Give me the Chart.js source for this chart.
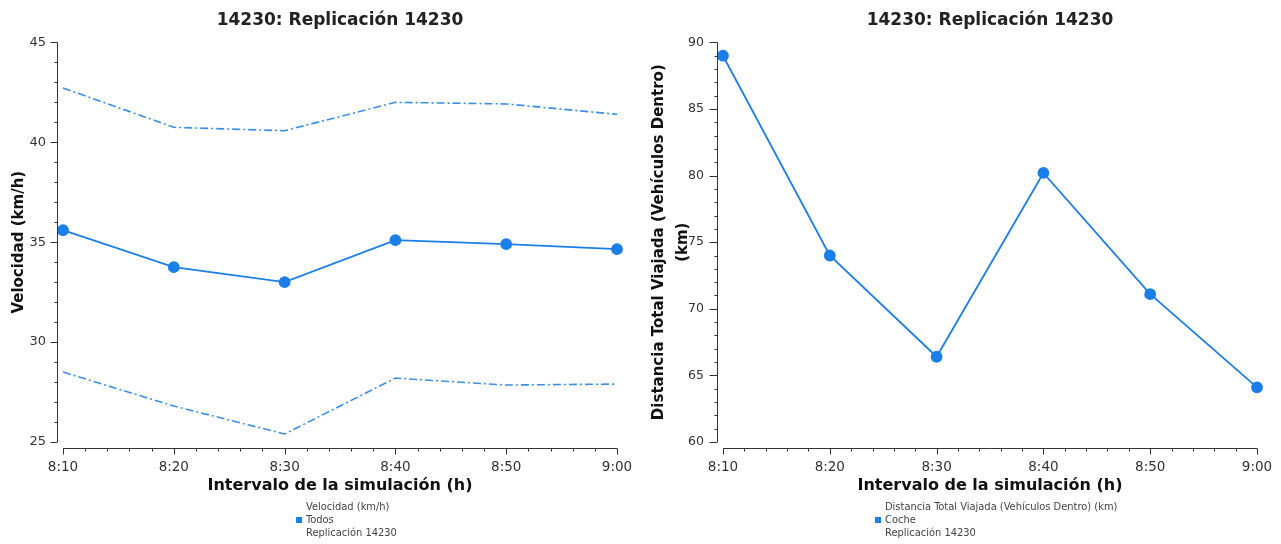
<!DOCTYPE html>
<html>
<head>
<meta charset="utf-8">
<script src="https://cdn.jsdelivr.net/npm/chart.js@4"></script>
<style>
  html, body { margin: 0; padding: 0; background: #fff; }
  #wrap { position: relative; width: 1281px; height: 544px; overflow: hidden; }
  .cv { position: absolute; top: 0; }
  .leg { position: absolute; font-family: "DejaVu Sans Condensed", "DejaVu Sans", sans-serif; font-size: 11px; color: #444; line-height: 13px; white-space: nowrap; }
  .sq { position: absolute; width: 6px; height: 6px; background: #1a7fe8; }
</style>
</head>
<body>
<div id="wrap">
  <div class="cv" style="left:0;width:640px;height:544px;"><canvas id="c1" width="640" height="544"></canvas></div>
  <div class="cv" style="left:640px;width:641px;height:544px;"><canvas id="c2" width="641" height="544"></canvas></div>
  <div class="leg" style="left:306px;top:500px;">Velocidad (km/h)<br>Todos<br>Replicación 14230</div>
  <div class="sq" style="left:296px;top:517px;"></div>
  <div class="leg" style="left:885px;top:500px;">Distancia Total Viajada (Vehículos Dentro) (km)<br>Coche<br>Replicación 14230</div>
  <div class="sq" style="left:875px;top:517px;"></div>
</div>
<script>
const categories = ['8:10', '8:20', '8:30', '8:40', '8:50', '9:00'];
const velocidadMedia = [35.6, 33.75, 33.0, 35.1, 34.9, 34.65];
const velocidadSuperior = [42.72, 40.75, 40.58, 42.0, 41.92, 41.4];
const velocidadInferior = [28.5, 26.8, 25.4, 28.2, 27.85, 27.9];
const distanciaCoche = [89.0, 74.0, 66.4, 80.2, 71.1, 64.1];
const titleText = '14230: Replicación 14230';
const xTitle = 'Intervalo de la simulación (h)';

const BLUE = '#1a7fe8';
const AXIS = '#333333';

const axesPlugin = {
  id: 'offsetAxes',
  afterDraw(chart, args, opts) {
    const ctx = chart.ctx;
    const xs = chart.scales.x, ys = chart.scales.y;
    const ca = chart.chartArea;
    ctx.save();
    ctx.strokeStyle = AXIS;
    ctx.lineWidth = 1;
    // y axis
    const ax = Math.round(ca.left - 6) + 0.5;
    ctx.beginPath();
    ctx.moveTo(ax, ys.getPixelForValue(ys.max));
    ctx.lineTo(ax, ys.getPixelForValue(ys.min));
    for (let v = ys.min; v <= ys.max + 1e-9; v += opts.yMinor) {
      const py = Math.round(ys.getPixelForValue(v)) + 0.5;
      const major = Math.abs(v / opts.yMajor - Math.round(v / opts.yMajor)) < 1e-6;
      ctx.moveTo(ax, py);
      ctx.lineTo(ax - (major ? opts.majorLen : 3), py);
    }
    ctx.stroke();
    // x axis
    const ay = Math.round(ca.bottom + 6) + 0.5;
    const n = categories.length;
    ctx.beginPath();
    ctx.moveTo(xs.getPixelForValue(0), ay);
    ctx.lineTo(xs.getPixelForValue(n - 1) + 0.5, ay);
    for (let i = 0; i < n; i++) {
      for (let k = 0; k < 5; k++) {
        if (i === n - 1 && k > 0) break;
        const px = Math.round(xs.getPixelForValue(i + k / 5)) + 0.5;
        ctx.moveTo(px, ay);
        ctx.lineTo(px, ay + (k === 0 ? 6 : 3));
      }
    }
    ctx.stroke();
    ctx.restore();
  }
};

function baseOptions(cfg) {
  return {
    responsive: false,
    animation: false,
    layout: { padding: { left: 0, right: 0, top: 0, bottom: 47 } },
    plugins: {
      legend: { display: false },
      tooltip: { enabled: false },
      title: {
        display: true, text: titleText, fullSize: false,
        color: '#222',
        font: { family: 'DejaVu Sans', weight: 'bold', size: 17 },
        padding: { top: 10, bottom: 12 }
      },
      offsetAxes: { yMinor: 1, yMajor: 5, majorLen: cfg.majorLen }
    },
    scales: {
      x: {
        type: 'category',
        offset: false,
        grid: { display: false, drawTicks: false },
        border: { display: false },
        ticks: { color: '#333', font: { family: 'DejaVu Sans', size: 13.5 }, padding: 17, maxRotation: 0, autoSkip: false },
        title: {
          display: true, text: xTitle, color: '#111',
          font: { family: 'DejaVu Sans', weight: 'bold', size: 16 },
          padding: { top: 0, bottom: 2 }
        },
        afterFit(s) { s.height = 55; s.paddingLeft = 0; s.paddingRight = cfg.rightPad; }
      },
      y: {
        min: cfg.yMin, max: cfg.yMax,
        grid: { display: false, drawTicks: false },
        border: { display: false },
        ticks: { stepSize: 5, color: '#333', font: { family: 'DejaVu Sans', size: cfg.yFont }, padding: cfg.yPad },
        title: {
          display: true, text: cfg.yTitle, color: '#111',
          font: { family: 'DejaVu Sans', weight: 'bold', size: 15, lineHeight: 1.6 },
          padding: { top: 7, bottom: 0 }
        },
        afterFit(s) { s.width = cfg.yWidth; }
      }
    }
  };
}

new Chart(document.getElementById('c1'), {
  type: 'line',
  data: {
    labels: categories,
    datasets: [
      { data: velocidadSuperior, borderColor: '#3a90e8', borderWidth: 1.6, borderDash: [8, 3, 2, 3], pointRadius: 0, tension: 0, clip: false },
      { data: velocidadMedia, borderColor: BLUE, borderWidth: 1.8, pointRadius: 5, pointBackgroundColor: BLUE, pointBorderColor: BLUE, tension: 0, clip: false },
      { data: velocidadInferior, borderColor: '#3a90e8', borderWidth: 1.6, borderDash: [8, 3, 2, 3], pointRadius: 0, tension: 0, clip: false }
    ]
  },
  options: baseOptions({ yMin: 25, yMax: 45, yTitle: 'Velocidad (km/h)', yWidth: 63, rightPad: 23, yFont: 13, yPad: 17, majorLen: 7 }),
  plugins: [axesPlugin]
});

new Chart(document.getElementById('c2'), {
  type: 'line',
  data: {
    labels: categories,
    datasets: [
      { data: distanciaCoche, borderColor: BLUE, borderWidth: 1.8, pointRadius: 5, pointBackgroundColor: BLUE, pointBorderColor: BLUE, tension: 0, clip: false }
    ]
  },
  options: baseOptions({ yMin: 60, yMax: 90, yTitle: ['Distancia Total Viajada (Vehículos Dentro)', '(km)'], yWidth: 83, rightPad: 24, yFont: 12.5, yPad: 19, majorLen: 8 }),
  plugins: [axesPlugin]
});
</script>
</body>
</html>
